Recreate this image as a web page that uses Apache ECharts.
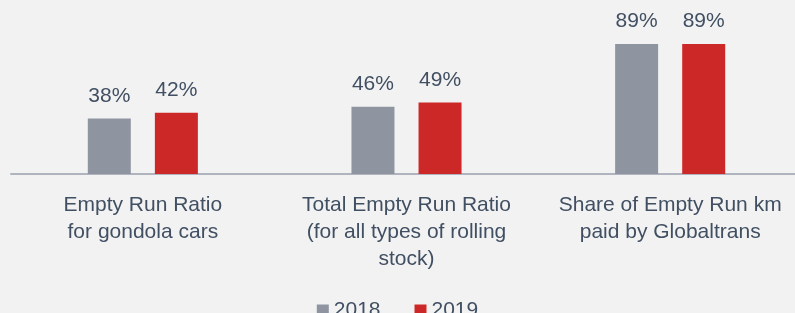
<!DOCTYPE html>
<html>
<head>
<meta charset="utf-8">
<title>Empty run</title>
<script src="https://cdn.jsdelivr.net/npm/echarts@6/dist/echarts.min.js"></script>
<style>
	* { margin: 0; padding: 0; }
	body { background: #f2f2f2; }
	#main { width: 795px; height: 313px; }
</style>
</head>
<body>
<div id="main"></div>
<script>
	let categories = [
		'Empty Run Ratio\nfor gondola cars',
		'Total Empty Run Ratio\n(for all types of rolling\nstock)',
		'Share of Empty Run km\npaid by Globaltrans'
	];
	let years = ['2018', '2019'];
	let data2018 = [38, 46, 89];
	let data2019 = [42, 49, 89];
	let myColor = ['#8f94a1', '#cd2828'];
	let textColor = '#414f62';
	let font = '"Liberation Sans", Arial, sans-serif';

	let myChart = echarts.init(document.getElementById('main'));

	// label above every bar
	let barLabel = {
		show: true,
		position: 'top',
		distance: 12,
		color: textColor,
		fontSize: 21,
		fontFamily: font,
		formatter: '{c}%'
	};

	let option = {
		backgroundColor: '#f2f2f2',
		animation: false,
		legend: {
			top: 295,
			left: 'center',
			itemWidth: 12,
			itemHeight: 12,
			itemGap: 34,
			icon: 'rect',
			textStyle: {
				color: textColor,
				fontSize: 21,
				fontFamily: font
			},
			data: years
		},
		grid: {
			left: 11,
			top: 28,
			width: 791,
			height: 146,
			containLabel: false,
			outerBoundsMode: 'none'
		},
		xAxis: {
			type: 'category',
			data: categories,
			axisLine: {
				show: true,
				lineStyle: { color: '#b0b4bf', width: 2 }
			},
			axisTick: { show: false },
			axisLabel: {
				interval: 0,
				margin: 18,
				color: textColor,
				fontSize: 21,
				lineHeight: 27,
				fontFamily: font
			}
		},
		yAxis: {
			type: 'value',
			min: 0,
			max: 100,
			show: false
		},
		series: [{
				name: years[0],
				type: 'bar',
				barWidth: 43,
				barGap: '56%',
				itemStyle: { color: myColor[0] },
				label: barLabel,
				data: data2018
			},
			{
				name: years[1],
				type: 'bar',
				barWidth: 43,
				barGap: '56%',
				itemStyle: { color: myColor[1] },
				label: barLabel,
				data: data2019
			}
		]
	};
	myChart.setOption(option);
</script>
</body>
</html>
